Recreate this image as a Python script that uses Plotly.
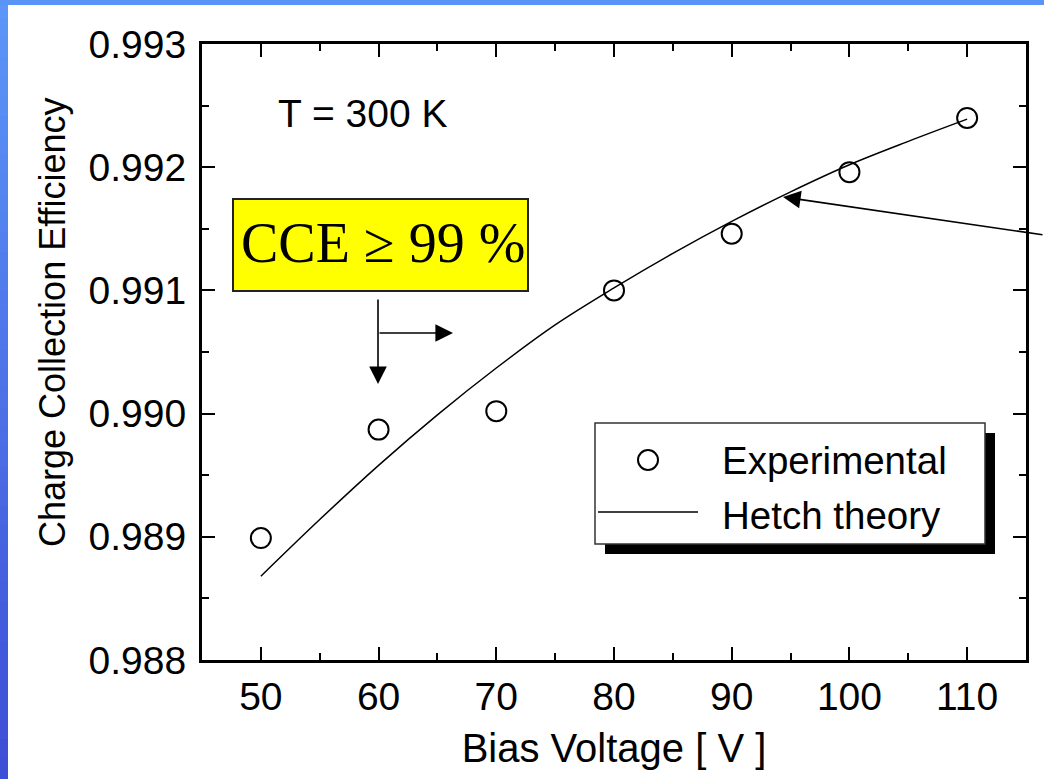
import plotly.graph_objects as go

# ---- data ----
exp_voltage = [50, 60, 70, 80, 90, 100, 110]
exp_cce = [0.98899, 0.98987, 0.99002, 0.99100, 0.99146, 0.99196, 0.99240]

theory_voltage = [50, 55, 60, 65, 70, 75, 80, 85, 90, 95, 100, 105, 110]
theory_cce = [0.98868, 0.98914, 0.98958, 0.98999, 0.99037, 0.99072, 0.99102,
              0.99130, 0.99156, 0.99180, 0.99202, 0.99221, 0.99239]

x_ticks = [50, 60, 70, 80, 90, 100, 110]
y_ticks = [0.988, 0.989, 0.990, 0.991, 0.992, 0.993]

W, H = 1044, 779
L, R, T, B = 202, 18, 44, 119
PW, PH = W - L - R, H - T - B

def px(x):
    return (x - L) / PW

def py(y):
    return (H - B - y) / PH

SANS = "Liberation Sans, Arial, sans-serif"
SERIF = "Liberation Serif, Times New Roman, serif"

fig = go.Figure()
fig.add_trace(go.Scatter(x=theory_voltage, y=theory_cce, mode="lines",
                         line=dict(color="black", width=1.5, shape="spline", smoothing=1.0),
                         name="Hetch theory", showlegend=False))
fig.add_trace(go.Scatter(x=exp_voltage, y=exp_cce, mode="markers",
                         marker=dict(symbol="circle-open", size=20, color="black",
                                     line=dict(width=2, color="black")),
                         name="Experimental", showlegend=False))

shapes = []
# blue frame (top strip and left gradient strip)
nb = 40
c0 = (92, 150, 248)
c1 = (62, 78, 214)
for i in range(nb):
    t = i / (nb - 1)
    c = tuple(int(round(c0[k] + (c1[k] - c0[k]) * t)) for k in range(3))
    shapes.append(dict(type="rect", xref="paper", yref="paper", x0=px(0), x1=px(8),
                       y0=py(H * i / nb - 1), y1=py(H * (i + 1) / nb + 1),
                       fillcolor="rgb(%d,%d,%d)" % c, line=dict(width=0), layer="below"))
shapes.append(dict(type="rect", xref="paper", yref="paper", x0=px(0), x1=px(W),
                   y0=py(0), y1=py(5), fillcolor="#5b94f7", line=dict(width=0), layer="below"))

# yellow box
shapes.append(dict(type="rect", xref="paper", yref="paper", x0=px(233), x1=px(528),
                   y0=py(291), y1=py(199), fillcolor="#ffff00",
                   line=dict(color="#222222", width=2)))
# legend shadow + box
shapes.append(dict(type="rect", xref="paper", yref="paper", x0=px(605), x1=px(995),
                   y0=py(554), y1=py(433), fillcolor="black", line=dict(width=0)))
shapes.append(dict(type="rect", xref="paper", yref="paper", x0=px(595), x1=px(985),
                   y0=py(544), y1=py(423), fillcolor="white",
                   line=dict(color="#333333", width=1.5)))
# legend symbols
shapes.append(dict(type="circle", xref="paper", yref="paper", x0=px(638), x1=px(658),
                   y0=py(470), y1=py(450), line=dict(color="black", width=2)))
shapes.append(dict(type="line", xref="paper", yref="paper", x0=px(598), x1=px(698),
                   y0=py(512), y1=py(512), line=dict(color="black", width=1.5)))

def label(text, x, y, size=38, family=SANS, xanchor="center", yanchor="middle", angle=0):
    return dict(text=text, xref="paper", yref="paper", x=px(x), y=py(y),
                xanchor=xanchor, yanchor=yanchor, textangle=angle, showarrow=False,
                font=dict(family=family, size=size, color="black"))

def arrow(tipx, tipy, dx, dy):
    return dict(text="", xref="paper", yref="paper", x=px(tipx), y=py(tipy), ax=dx, ay=dy,
                showarrow=True, arrowhead=2, arrowsize=2.2, arrowwidth=1.6, arrowcolor="black")

annotations = [
    label("Charge Collection Efficiency", 52, 322, size=36, angle=-90),
    label("T = 300 K", 362, 113, size=39),
    label("CCE ≥ 99 %", 383, 243, size=56, family=SERIF),
    label("Experimental", 720, 460, size=38.5, xanchor="left"),
    label("Hetch theory", 720, 515, size=38.5, xanchor="left"),
    arrow(378, 384, 0, -86),
    arrow(453, 333, -75, 0),
    arrow(783, 197, 261, 38),
]

axis_common = dict(showline=True, linewidth=3, linecolor="black", mirror="ticks",
                   ticks="inside", ticklen=13, tickwidth=2, tickcolor="black",
                   showgrid=False, zeroline=False,
                   tickfont=dict(family=SANS, size=39, color="black"))

fig.update_layout(
    width=W, height=H,
    margin=dict(l=L, r=R, t=T, b=B),
    paper_bgcolor="white", plot_bgcolor="white",
    shapes=shapes, annotations=annotations,
    xaxis=dict(range=[45, 115], tickvals=x_ticks, ticklabelstandoff=0,
               minor=dict(dtick=5, tick0=45, ticks="inside", ticklen=7, tickwidth=2, tickcolor="black"),
               title=dict(text="Bias Voltage [ V ]", standoff=18,
                          font=dict(family=SANS, size=40, color="black")),
               **axis_common),
    yaxis=dict(range=[0.988, 0.993], tickvals=y_ticks, tickformat=".3f", ticklabelstandoff=5,
               minor=dict(dtick=0.0005, tick0=0.988, ticks="inside", ticklen=7, tickwidth=2, tickcolor="black"),
               **axis_common),
)

fig.write_html("out.html")
